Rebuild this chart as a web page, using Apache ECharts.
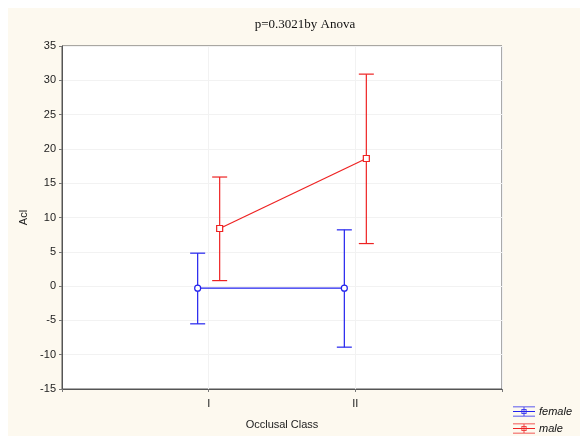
<!DOCTYPE html>
<html><head><meta charset="utf-8">
<script src="https://cdn.jsdelivr.net/npm/echarts@6/dist/echarts.min.js"></script>
<style>html,body{margin:0;padding:0;background:#fff}#c{width:580px;height:436px}</style>
</head><body><div id="c"></div>
<script>
var categories = ['I', 'II'];
var femaleMean = [-0.3, -0.3];
var femaleLow = [-5.5, -8.9];
var femaleHigh = [4.8, 8.2];
var maleMean = [8.4, 18.6];
var maleLow = [0.8, 6.2];
var maleHigh = [15.9, 30.9];
var yTicks = [-15, -10, -5, 0, 5, 10, 15, 20, 25, 30, 35];

var off = 0.075;
function pts(mean, shift) { return mean.map(function (v, i) { return [i + 1 + shift, v]; }); }
function bars(low, high, shift) { return low.map(function (v, i) { return [i + 1 + shift, v, high[i]]; }); }

function errRender(color) {
  return function (params, api) {
    var x = api.value(0);
    var lo = api.coord([x, api.value(1)]);
    var hi = api.coord([x, api.value(2)]);
    var w = 7.5;
    var st = { stroke: color, lineWidth: 1.2 };
    return { type: 'group', children: [
      { type: 'line', shape: { x1: lo[0], y1: lo[1], x2: hi[0], y2: hi[1] }, style: st },
      { type: 'line', shape: { x1: lo[0] - w, y1: lo[1], x2: lo[0] + w, y2: lo[1] }, style: st },
      { type: 'line', shape: { x1: hi[0] - w, y1: hi[1], x2: hi[0] + w, y2: hi[1] }, style: st }
    ]};
  };
}

var iconFemale = 'path://M0,0H44V1.6H0Z M0,9.2H44V10.8H0Z M0,18.4H44V20H0Z M21.2,0H22.8V20H21.2Z M17,5H27V15H17Z M18.6,6.6V13.4H25.4V6.6Z';
var iconMale = iconFemale;

var chart = echarts.init(document.getElementById('c'));
chart.setOption({
  animation: false,
  backgroundColor: '#ffffff',
  graphic: [{ type: 'rect', z: -10, shape: { x: 8, y: 8, width: 572, height: 428 }, style: { fill: '#fdf9ef' } }],
  title: { text: 'p=0.3021by Anova', left: 300, top: 13, textAlign: 'center',
    textStyle: { fontFamily: 'Liberation Serif', fontSize: 13, fontWeight: 'normal', color: '#111' } },
  grid: { left: 62, right: 78, top: 46, bottom: 47, show: true, backgroundColor: '#ffffff', borderColor: '#555', borderWidth: 1 },
  legend: { orient: 'vertical', left: 513, top: 406, padding: 0, itemWidth: 22, itemHeight: 10, itemGap: 6,
    data: [
      { name: 'female', icon: iconFemale, itemStyle: { color: '#2222ee', borderWidth: 0 } },
      { name: 'male', icon: iconMale, itemStyle: { color: '#ee2222', borderWidth: 0 } }
    ],
    textStyle: { fontFamily: 'Liberation Sans', fontStyle: 'italic', fontSize: 11, color: '#111', padding: [0, 0, 0, -1] } },
  xAxis: { type: 'value', min: 0, max: 3, interval: 1,
    name: 'Occlusal Class', nameLocation: 'middle', nameGap: 30,
    nameTextStyle: { fontFamily: 'Liberation Sans', fontSize: 11, color: '#222' },
    axisLine: { onZero: false, lineStyle: { color: '#555' } },
    axisTick: { show: true, length: 3, lineStyle: { color: '#777' } },
    axisLabel: { fontFamily: 'Liberation Sans', fontSize: 11, color: '#222', margin: 9,
      formatter: function (v) { return categories[v - 1] || ''; } },
    splitLine: { show: true, lineStyle: { color: '#f2f2f2' } } },
  yAxis: { type: 'value', min: yTicks[0], max: yTicks[yTicks.length - 1], interval: 5,
    name: 'Acl', nameLocation: 'middle', nameGap: 28, nameRotate: 90,
    nameTextStyle: { fontFamily: 'Liberation Sans', fontSize: 11, color: '#222' },
    axisLine: { onZero: false, lineStyle: { color: '#555' } },
    axisTick: { show: true, length: 3, lineStyle: { color: '#777' } },
    axisLabel: { fontFamily: 'Liberation Sans', fontSize: 11, color: '#222', margin: 6 },
    splitLine: { show: true, lineStyle: { color: '#f2f2f2' } } },
  series: [
    { name: 'female', type: 'line', data: pts(femaleMean, -off), color: '#2222ee',
      symbol: 'circle', symbolSize: 6, lineStyle: { width: 1.2, color: '#2222ee' },
      itemStyle: { color: '#fff', borderColor: '#2222ee', borderWidth: 1.2 }, z: 5 },
    { name: 'female', type: 'custom', data: bars(femaleLow, femaleHigh, -off), renderItem: errRender('#2222ee'), z: 3 },
    { name: 'male', type: 'line', data: pts(maleMean, off), color: '#ee2222',
      symbol: 'rect', symbolSize: 6, lineStyle: { width: 1.2, color: '#ee2222' },
      itemStyle: { color: '#fff', borderColor: '#ee2222', borderWidth: 1.2 }, z: 5 },
    { name: 'male', type: 'custom', data: bars(maleLow, maleHigh, off), renderItem: errRender('#ee2222'), z: 3 }
  ]
});
</script></body></html>
